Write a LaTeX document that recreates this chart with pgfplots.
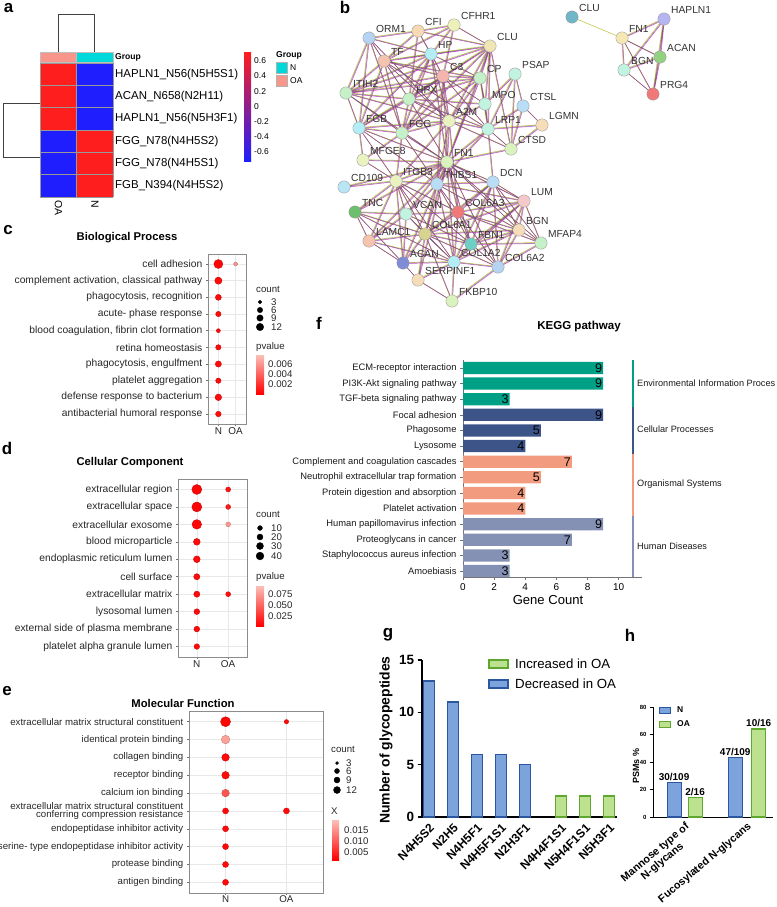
\documentclass[border=0pt]{standalone}
\usepackage{fontspec}
\setmainfont{Liberation Sans}
\usepackage{pgfplots}
\usepackage{pgfplotstable}
\pgfplotsset{compat=1.18}
\newcommand\fs[1]{\fontsize{#1}{#1}\selectfont}
\definecolor{hred}{HTML}{FF1E1E}
\definecolor{hblue}{HTML}{1E1EFF}
\definecolor{gN}{HTML}{00D8DA}
\definecolor{gOA}{HTML}{F8968C}
\definecolor{kT}{HTML}{00A087}
\definecolor{kB}{HTML}{3C5488}
\definecolor{kS}{HTML}{F39B7F}
\definecolor{kG}{HTML}{8491B4}
\definecolor{bF}{HTML}{7CA3DC}
\definecolor{bE}{HTML}{2B56A0}
\definecolor{gF}{HTML}{BDE28F}
\definecolor{gE}{HTML}{5FA830}
\definecolor{pale}{HTML}{FAC0B8}
\definecolor{eO}{HTML}{C2C94A}
\definecolor{eM}{HTML}{CC44CC}
\definecolor{nA}{HTML}{B6D3F2}
\definecolor{nB}{HTML}{F7D9B3}
\definecolor{nC}{HTML}{EEF0B9}
\definecolor{nD}{HTML}{F0E6B5}
\definecolor{nE}{HTML}{B3EDF5}
\definecolor{nF}{HTML}{F5C4AE}
\definecolor{nG}{HTML}{F5B5AE}
\definecolor{nH}{HTML}{C5F0C8}
\definecolor{nI}{HTML}{C2F2E0}
\definecolor{nJ}{HTML}{B9DDF5}
\definecolor{nK}{HTML}{EAF2C2}
\definecolor{nL}{HTML}{F5DDBA}
\definecolor{nM}{HTML}{DAF2BD}
\definecolor{nN}{HTML}{B9E6F5}
\definecolor{nO}{HTML}{F5C9C9}
\definecolor{nP}{HTML}{6CBF6C}
\definecolor{nQ}{HTML}{F07878}
\definecolor{nR}{HTML}{D6D48E}
\definecolor{nS}{HTML}{6ECFC6}
\definecolor{nT}{HTML}{7F8CD6}
\definecolor{nU}{HTML}{6FB6C8}
\definecolor{nV}{HTML}{F5E8B5}
\definecolor{nW}{HTML}{B5B5F2}
\definecolor{nX}{HTML}{92D182}
\pgfplotsset{
  /pgf/number format/assume math mode=true,
  dotax/.style={anchor=north west, scale only axis, xmin=0.4, xmax=2.6, ymin=0.4, ymax=10.6, y dir=reverse,
    xtick={1,2}, xticklabels={N,OA}, ytick={1,...,10}, grid=major,
    major grid style={draw=black!9, line width=0.5bp}, axis line style={draw=black!45, line width=0.6bp},
    tick style={draw=black!55, line width=0.5bp}, tick align=outside, major tick length=2.2bp, tick pos=left,
    ticklabel style={text=black!85}, xticklabel style={font=\fs{10}, inner sep=1bp},
    colormap={dotc}{rgb255=(255,0,0) rgb255=(250,190,180)}, point meta min=0, point meta max=1, clip=false},
  dotpl/.style={scatter, only marks, mark=*, point meta=explicit, visualization depends on={\thisrow{r}\as\rr},
    scatter/@pre marker code/.append style={/tikz/mark size=\rr}},
  kbar/.style={xbar, bar shift=0pt, bar width=12.3bp, draw=none, point meta=x, nodes near coords,
    nodes near coords style={anchor=east, font=\fs{12.6}, inner sep=0.8bp}},
  netnode/.style={only marks, mark=*, mark size=6.2, mark options={draw=black!40, line width=0.35bp, fill=#1},
    nodes near coords, point meta=explicit symbolic,
    nodes near coords style={anchor=west, font=\fs{10.3}, text=black!80, inner sep=0.5bp, xshift=6.5bp, yshift=9bp}},
}
\pgfplotstableread[row sep=\\]{
x y\\
369 38\\384 61\\369 38\\431 54\\369 38\\346 93\\369 38\\359 128\\369 38\\409 99\\369 38\\449 121\\369 38\\402 133\\369 38\\418 31\\nan nan\\
418 31\\443 76\\418 31\\431 54\\418 31\\454 25\\418 31\\490 46\\418 31\\384 61\\418 31\\409 99\\nan nan\\
454 25\\443 76\\454 25\\490 46\\454 25\\431 54\\454 25\\384 61\\nan nan\\
490 46\\443 76\\490 46\\431 54\\490 46\\449 121\\490 46\\480 78\\490 46\\384 61\\490 46\\402 133\\490 46\\409 99\\490 46\\488 129\\490 46\\346 93\\490 46\\485 104\\490 46\\511 149\\490 46\\447 162\\nan nan\\
431 54\\384 61\\431 54\\443 76\\431 54\\409 99\\431 54\\449 121\\431 54\\480 78\\431 54\\359 128\\431 54\\402 133\\431 54\\346 93\\431 54\\447 162\\nan nan\\
384 61\\443 76\\384 61\\409 99\\384 61\\449 121\\384 61\\346 93\\384 61\\359 128\\384 61\\402 133\\384 61\\480 78\\384 61\\488 129\\nan nan\\
443 76\\449 121\\443 76\\480 78\\443 76\\402 133\\443 76\\359 128\\443 76\\409 99\\443 76\\346 93\\443 76\\447 162\\443 76\\485 104\\443 76\\488 129\\443 76\\437 184\\nan nan\\
480 78\\449 121\\480 78\\409 99\\480 78\\485 104\\480 78\\402 133\\480 78\\346 93\\480 78\\488 129\\480 78\\447 162\\nan nan\\
515 74\\511 149\\515 74\\488 129\\515 74\\523 106\\515 74\\485 104\\nan nan\\
346 93\\409 99\\346 93\\359 128\\346 93\\402 133\\346 93\\449 121\\346 93\\447 162\\nan nan\\
409 99\\449 121\\409 99\\402 133\\409 99\\359 128\\409 99\\485 104\\409 99\\447 162\\409 99\\488 129\\nan nan\\
449 121\\402 133\\449 121\\359 128\\449 121\\447 162\\449 121\\488 129\\449 121\\485 104\\449 121\\437 184\\449 121\\511 149\\449 121\\396 181\\449 121\\458 212\\nan nan\\
488 129\\511 149\\488 129\\523 106\\488 129\\542 125\\488 129\\447 162\\488 129\\437 184\\488 129\\493 182\\488 129\\485 104\\nan nan\\
523 106\\511 149\\542 125\\523 106\\nan nan\\
359 128\\402 133\\359 128\\447 162\\359 128\\396 181\\359 128\\363 160\\359 128\\437 184\\nan nan\\
402 133\\447 162\\402 133\\396 181\\402 133\\437 184\\402 133\\363 160\\nan nan\\
447 162\\396 181\\447 162\\437 184\\447 162\\493 182\\447 162\\458 212\\447 162\\425 234\\447 162\\406 214\\447 162\\471 244\\447 162\\454 262\\447 162\\355 212\\447 162\\369 241\\447 162\\519 230\\447 162\\524 201\\447 162\\363 160\\447 162\\344 187\\447 162\\403 263\\447 162\\418 280\\447 162\\511 149\\447 162\\498 267\\447 162\\541 243\\nan nan\\
396 181\\363 160\\396 181\\344 187\\396 181\\437 184\\396 181\\355 212\\396 181\\406 214\\396 181\\425 234\\396 181\\369 241\\396 181\\471 244\\396 181\\454 262\\396 181\\458 212\\396 181\\403 263\\nan nan\\
437 184\\493 182\\437 184\\458 212\\437 184\\454 262\\437 184\\471 244\\437 184\\406 214\\437 184\\425 234\\437 184\\524 201\\437 184\\519 230\\nan nan\\
493 182\\524 201\\493 182\\519 230\\493 182\\458 212\\493 182\\425 234\\493 182\\454 262\\493 182\\498 267\\493 182\\471 244\\493 182\\541 243\\nan nan\\
524 201\\519 230\\524 201\\454 262\\524 201\\425 234\\524 201\\471 244\\524 201\\541 243\\524 201\\458 212\\524 201\\498 267\\nan nan\\
355 212\\406 214\\355 212\\369 241\\355 212\\425 234\\355 212\\403 263\\355 212\\454 262\\nan nan\\
406 214\\425 234\\406 214\\403 263\\406 214\\471 244\\406 214\\454 262\\406 214\\458 212\\406 214\\369 241\\nan nan\\
458 212\\425 234\\458 212\\498 267\\458 212\\471 244\\458 212\\519 230\\458 212\\454 262\\458 212\\541 243\\nan nan\\
425 234\\498 267\\425 234\\471 244\\425 234\\454 262\\425 234\\519 230\\425 234\\369 241\\425 234\\403 263\\425 234\\418 280\\425 234\\452 301\\nan nan\\
519 230\\541 243\\519 230\\498 267\\519 230\\471 244\\519 230\\454 262\\nan nan\\
369 241\\403 263\\454 262\\369 241\\nan nan\\
471 244\\454 262\\471 244\\498 267\\471 244\\541 243\\nan nan\\
541 243\\498 267\\nan nan\\
403 263\\418 280\\nan nan\\
454 262\\498 267\\454 262\\418 280\\454 262\\452 301\\nan nan\\
418 280\\452 301\\498 267\\nan nan\\
622 38\\664 19\\622 38\\660 57\\622 38\\624 70\\622 38\\653 94\\nan nan\\
664 19\\660 57\\664 19\\624 70\\664 19\\653 94\\nan nan\\
660 57\\624 70\\653 94\\660 57\\nan nan\\
}\edgestab
\begin{document}
\begin{tikzpicture}
\useasboundingbox (0,0) rectangle (777bp,-907bp);

% ---------- canvas axis: network + legend dots ----------
\begin{axis}[at={(0bp,0bp)}, anchor=north west, scale only axis, width=777bp, height=907bp,
  xmin=0, xmax=777, ymin=0, ymax=907, y dir=reverse, hide axis, clip=false, unbounded coords=jump]
\addplot[color=eO, line width=0.5bp, xshift=-0.5bp, yshift=0.5bp] table[x=x,y=y] {\edgestab};
\addplot[color=eM, line width=0.5bp, xshift=0.5bp, yshift=-0.5bp] table[x=x,y=y] {\edgestab};
\addplot[color=black!60, line width=0.25bp] table[x=x,y=y] {\edgestab};
\addplot[color=eO, line width=0.6bp] coordinates {(572,17) (622,38)};
\addplot[netnode=nA] table[meta=l, row sep=\\] {x y l\\ 369 38 ORM1\\ 498 267 COL6A2\\};
\addplot[netnode=nB] table[meta=l, row sep=\\] {x y l\\ 418 31 CFI\\};
\addplot[netnode=nC] table[meta=l, row sep=\\] {x y l\\ 454 25 CFHR1\\};
\addplot[netnode=nD] table[meta=l, row sep=\\] {x y l\\ 490 46 CLU\\};
\addplot[netnode=nE] table[meta=l, row sep=\\] {x y l\\ 431 54 HP\\ 359 128 FGB\\ 454 262 COL1A2\\};
\addplot[netnode=nF] table[meta=l, row sep=\\] {x y l\\ 384 61 TF\\ 369 241 LAMC1\\};
\addplot[netnode=nG] table[meta=l, row sep=\\] {x y l\\ 443 76 C3\\};
\addplot[netnode=nH] table[meta=l, row sep=\\] {x y l\\ 480 78 CP\\ 346 93 ITIH2\\ 409 99 HPX\\ 402 133 FGG\\ 541 243 MFAP4\\};
\addplot[netnode=nI] table[meta=l, row sep=\\] {x y l\\ 515 74 PSAP\\ 485 104 MPO\\ 488 129 LRP1\\ 406 214 VCAN\\ 624 70 BGN\\};
\addplot[netnode=nJ] table[meta=l, row sep=\\] {x y l\\ 523 106 CTSL\\ 437 184 THBS1\\ 493 182 DCN\\};
\addplot[netnode=nK] table[meta=l, row sep=\\] {x y l\\ 449 121 A2M\\ 363 160 MFGE8\\ 396 181 ITGB3\\};
\addplot[netnode=nL] table[meta=l, row sep=\\] {x y l\\ 542 125 LGMN\\ 519 230 BGN\\ 418 280 SERPINF1\\};
\addplot[netnode=nM] table[meta=l, row sep=\\] {x y l\\ 511 149 CTSD\\ 447 162 FN1\\ 452 301 FKBP10\\};
\addplot[netnode=nN] table[meta=l, row sep=\\] {x y l\\ 344 187 CD109\\};
\addplot[netnode=nO] table[meta=l, row sep=\\] {x y l\\ 524 201 LUM\\};
\addplot[netnode=nP] table[meta=l, row sep=\\] {x y l\\ 355 212 TNC\\};
\addplot[netnode=nQ] table[meta=l, row sep=\\] {x y l\\ 458 212 COL6A3\\ 653 94 PRG4\\};
\addplot[netnode=nR] table[meta=l, row sep=\\] {x y l\\ 425 234 COL6A1\\};
\addplot[netnode=nS] table[meta=l, row sep=\\] {x y l\\ 471 244 FBN1\\};
\addplot[netnode=nT] table[meta=l, row sep=\\] {x y l\\ 403 263 ACAN\\};
\addplot[netnode=nU] table[meta=l, row sep=\\] {x y l\\ 572 17 CLU\\};
\addplot[netnode=nV] table[meta=l, row sep=\\] {x y l\\ 622 38 FN1\\};
\addplot[netnode=nW] table[meta=l, row sep=\\] {x y l\\ 664 19 HAPLN1\\};
\addplot[netnode=nX] table[meta=l, row sep=\\] {x y l\\ 660 57 ACAN\\};
% count legend dots
\addplot[only marks, mark=*, black, mark size=1.9] coordinates {(260,302)};
\addplot[only marks, mark=*, black, mark size=2.7] coordinates {(260,310)};
\addplot[only marks, mark=*, black, mark size=3.2] coordinates {(260,318)};
\addplot[only marks, mark=*, black, mark size=3.7] coordinates {(260,327)};
\addplot[only marks, mark=*, black, mark size=2.4] coordinates {(260,528)};
\addplot[only marks, mark=*, black, mark size=3.0] coordinates {(260,537)};
\addplot[only marks, mark=*, black, mark size=3.5] coordinates {(260,546)};
\addplot[only marks, mark=*, black, mark size=3.9] coordinates {(260,556)};
\addplot[only marks, mark=*, black, mark size=1.5] coordinates {(337,763)};
\addplot[only marks, mark=*, black, mark size=2.5] coordinates {(337,771)};
\addplot[only marks, mark=*, black, mark size=3.0] coordinates {(337,780)};
\addplot[only marks, mark=*, black, mark size=3.5] coordinates {(337,790)};
\end{axis}

% ---------- a: heatmap ----------
\begin{axis}[at={(40bp,-63bp)}, anchor=north west, scale only axis, width=73bp, height=134bp,
  xmin=0, xmax=2, ymin=0, ymax=6, y dir=reverse, hide axis, clip=false, unbounded coords=jump]
\addplot[fill=hred, draw=none] coordinates {(0,0) (1,0) (1,3) (0,3)};
\addplot[fill=hblue, draw=none] coordinates {(0,3) (1,3) (1,6) (0,6)};
\addplot[fill=hblue, draw=none] coordinates {(1,0) (2,0) (2,3) (1,3)};
\addplot[fill=hred, draw=none] coordinates {(1,3) (2,3) (2,6) (1,6)};
\addplot[draw=black!40, line width=0.6bp] coordinates {(0,0)(2,0)(nan,nan)(0,1)(2,1)(nan,nan)(0,2)(2,2)(nan,nan)(0,3)(2,3)(nan,nan)(0,4)(2,4)(nan,nan)(0,5)(2,5)(nan,nan)(0,6)(2,6)(nan,nan)(0,0)(0,6)(nan,nan)(1,0)(1,6)(nan,nan)(2,0)(2,6)};
\addplot[fill=gOA, draw=black!25, line width=0.4bp] coordinates {(0,-0.49) (1,-0.49) (1,-0.04) (0,-0.04) (0,-0.49)};
\addplot[fill=gN, draw=black!25, line width=0.4bp] coordinates {(1,-0.49) (2,-0.49) (2,-0.04) (1,-0.04) (1,-0.49)};
\addplot[draw=black!75, line width=0.7bp] coordinates {(0.5,-0.49) (0.5,-2.19) (1.5,-2.19) (1.5,-0.49)};
\addplot[draw=black!75, line width=0.7bp] coordinates {(0,1.79) (-1.01,1.79) (-1.01,4.24) (0,4.24)};
\end{axis}

% ---------- c: Biological Process ----------
\begin{axis}[dotax, at={(208bp,-254bp)}, width=38bp, height=170bp,
  yticklabel style={font=\fs{10.3}},
  yticklabels={cell adhesion, {complement activation, classical pathway}, {phagocytosis, recognition}, acute- phase response, {blood coagulation, fibrin clot formation}, retina homeostasis, {phagocytosis, engulfment}, platelet aggregation, defense response to bacterium, antibacterial humoral response}]
\addplot[dotpl] table[x=x, y=y, meta=m, row sep=\\] {
x y r m\\
1 1 4.5 0.02\\ 1 2 3.6 0.05\\ 1 3 3.0 0.05\\ 1 4 2.7 0.05\\ 1 5 2.0 0.05\\
1 6 2.7 0.05\\ 1 7 3.1 0.05\\ 1 8 2.7 0.05\\ 1 9 3.3 0.05\\ 1 10 2.8 0.05\\
2 1 2.0 0.75\\
};
\end{axis}

% ---------- d: Cellular Component ----------
\begin{axis}[dotax, at={(178bp,-479bp)}, width=69bp, height=178bp,
  yticklabel style={font=\fs{10.3}},
  yticklabels={extracellular region, extracellular space, extracellular exosome, blood microparticle, endoplasmic reticulum lumen, cell surface, extracellular matrix, lysosomal lumen, external side of plasma membrane, platelet alpha granule lumen}]
\addplot[dotpl] table[x=x, y=y, meta=m, row sep=\\] {
x y r m\\
1 1 5.0 0.02\\ 1 2 5.0 0.02\\ 1 3 4.8 0.03\\ 1 4 3.4 0.05\\ 1 5 3.4 0.05\\
1 6 3.1 0.05\\ 1 7 3.1 0.05\\ 1 8 2.9 0.05\\ 1 9 2.9 0.05\\ 1 10 2.8 0.05\\
2 1 2.5 0.10\\ 2 2 2.5 0.15\\ 2 3 2.4 0.80\\ 2 7 2.5 0.08\\
};
\end{axis}

% ---------- e: Molecular Function ----------
\begin{axis}[dotax, at={(189bp,-711bp)}, width=134bp, height=182bp,
  yticklabel style={font=\fontsize{9.7}{8.6}\selectfont, align=right},
  xticklabel style={font=\fs{9.8}, inner sep=0.5bp},
  yticklabels={extracellular matrix structural constituent, identical protein binding, collagen binding, receptor binding, calcium ion binding, {extracellular matrix structural constituent\\conferring compression resistance}, endopeptidase inhibitor activity, serine- type endopeptidase inhibitor activity, protease binding, antigen binding}]
\addplot[dotpl] table[x=x, y=y, meta=m, row sep=\\] {
x y r m\\
1 1 5.0 0.02\\ 1 2 4.3 0.85\\ 1 3 3.8 0.05\\ 1 4 3.8 0.05\\ 1 5 3.8 0.45\\
1 6 3.0 0.05\\ 1 7 3.0 0.05\\ 1 8 3.0 0.05\\ 1 9 3.0 0.05\\ 1 10 3.0 0.05\\
2 1 2.2 0.05\\ 2 6 3.0 0.05\\
};
\end{axis}

% ---------- f: KEGG ----------
\begin{axis}[at={(463bp,-577bp)}, anchor=south west, scale only axis, width=179bp, height=217bp,
  xmin=0, xmax=11.5, ymin=0.62, ymax=14.51, axis x line*=bottom, axis y line*=left,
  axis line style={-, draw=black!55, line width=0.7bp}, tick style={draw=black!55, line width=0.6bp},
  tick align=outside, major tick length=3bp, xtick={0,2,4,6,8,10}, ytick={1,...,14},
  yticklabels={Amoebiasis, Staphylococcus aureus infection, Proteoglycans in cancer, Human papillomavirus infection, Platelet activation, Protein digestion and absorption, Neutrophil extracellular trap formation, Complement and coagulation cascades, Lysosome, Phagosome, Focal adhesion, TGF-beta signaling pathway, PI3K-Akt signaling pathway, ECM-receptor interaction},
  yticklabel style={font=\fs{9.4}, text=black!90}, xticklabel style={font=\fs{10}}, clip=false]
\addplot[kbar, fill=kT] coordinates {(9,14) (9,13) (3,12)};
\addplot[kbar, fill=kB] coordinates {(9,11) (5,10) (4,9)};
\addplot[kbar, fill=kS] coordinates {(7,8) (5,7) (4,6) (4,5)};
\addplot[kbar, fill=kG] coordinates {(9,4) (7,3) (3,2) (3,1)};
\addplot[kT, line width=2.6bp] coordinates {(10.92,14.51) (10.92,11.5)};
\addplot[kB, line width=2.6bp] coordinates {(10.92,11.5) (10.92,8.5)};
\addplot[kS, line width=2.6bp] coordinates {(10.92,8.5) (10.92,4.5)};
\addplot[kG, line width=2.6bp] coordinates {(10.92,4.5) (10.92,0.62)};
\end{axis}

% ---------- g ----------
\begin{axis}[at={(422bp,-817bp)}, anchor=south west, scale only axis, width=195bp, height=157bp,
  xmin=-0.29, xmax=7.83, ymin=0, ymax=15, axis x line*=bottom, axis y line*=left,
  axis line style={-, black, line width=1.3bp}, ytick={0,5,10,15}, ytick style={black, line width=1.3bp},
  major tick length=4.5bp, tick align=outside,
  xtick={0,1,2,3,4,5.5,6.5,7.5}, xtick style={draw=none},
  xticklabels={N4H5S2,N2H5,N4H5F1,N4H5F1S1,N2H3F1,N4H4F1S1,N5H4F1S1,N5H3F1},
  xticklabel style={rotate=45, anchor=north east, font=\bfseries\fs{12}, inner sep=1bp},
  yticklabel style={font=\bfseries\fs{13.5}}, clip=false]
\addplot[ybar, bar shift=0pt, bar width=11bp, fill=bF, draw=bE, line width=1.3bp] coordinates {(0,13) (1,11) (2,6) (3,6) (4,5)};
\addplot[ybar, bar shift=0pt, bar width=11bp, fill=gF, draw=gE, line width=1.3bp] coordinates {(5.5,2) (6.5,2) (7.5,2)};
\end{axis}

% ---------- h ----------
\begin{axis}[at={(653bp,-817bp)}, anchor=south west, scale only axis, width=120bp, height=110bp,
  xmin=0.49, xmax=2.42, ymin=0, ymax=80, axis x line*=bottom, axis y line*=left,
  axis line style={-, black, line width=1bp}, ytick={0,20,40,60,80}, ytick style={black, line width=1bp},
  major tick length=3bp, tick align=outside, xtick={1,2}, xtick style={draw=none},
  xticklabels={{Mannose type of\\N-glycans}, Fucosylated N-glycans},
  xticklabel style={rotate=40, anchor=north east, align=center, font=\bfseries\fontsize{10.8}{11.5}\selectfont, inner sep=1bp},
  yticklabel style={font=\bfseries\fs{6}}, clip=false]
\addplot[ybar, bar shift=0pt, bar width=14bp, fill=bF, draw=bE, line width=1.1bp, nodes near coords, point meta=explicit symbolic,
  nodes near coords style={font=\bfseries\fs{10}, inner sep=1.5bp}] table[x=x, y=y, meta=l, row sep=\\] {x y l\\ 0.829 25 30/109\\ 1.812 43 47/109\\};
\addplot[ybar, bar shift=0pt, bar width=14bp, fill=gF, draw=gE, line width=1.1bp, nodes near coords, point meta=explicit symbolic,
  nodes near coords style={font=\bfseries\fs{10}, inner sep=1.5bp}] table[x=x, y=y, meta=l, row sep=\\] {x y l\\ 1.167 14 2/16\\ 2.19 64 10/16\\};
\end{axis}

% ---------- texts ----------
\begin{scope}[x=1bp, y=-1bp, every node/.style={inner sep=0pt}]
\node[font=\bfseries\fs{17}] at (8.5,8.5) {a};
\node[font=\bfseries\fs{17}] at (345,7.5) {b};
\node[font=\bfseries\fs{17}] at (8,230) {c};
\node[font=\bfseries\fs{17}] at (7,448) {d};
\node[font=\bfseries\fs{17}] at (7,691) {e};
\node[font=\bfseries\fs{17}] at (319,323) {f};
\node[font=\bfseries\fs{17}] at (388,635) {g};
\node[font=\bfseries\fs{17}] at (630,635) {h};
% heatmap labels
\node[anchor=west, font=\bfseries\fs{8.6}] at (115,57) {Group};
\node[anchor=west, font=\fs{11.5}] at (115,74.2) {HAPLN1\_N56(N5H5S1)};
\node[anchor=west, font=\fs{11.5}] at (115,96.5) {ACAN\_N658(N2H11)};
\node[anchor=west, font=\fs{11.5}] at (115,118.8) {HAPLN1\_N56(N5H3F1)};
\node[anchor=west, font=\fs{11.5}] at (115,141.2) {FGG\_N78(N4H5S2)};
\node[anchor=west, font=\fs{11.5}] at (115,163.5) {FGG\_N78(N4H5S1)};
\node[anchor=west, font=\fs{11.5}] at (115,185.8) {FGB\_N394(N4H5S2)};
\node[rotate=-90, anchor=west, font=\fs{10.5}] at (58.5,200) {OA};
\node[rotate=-90, anchor=west, font=\fs{10.5}] at (95,200) {N};
\shade[top color=hred, middle color=white, bottom color=hblue] (244,52) rectangle (251,161);
\node[anchor=west, font=\fs{8.5}] at (254,61) {0.6};
\node[anchor=west, font=\fs{8.5}] at (254,76) {0.4};
\node[anchor=west, font=\fs{8.5}] at (254,92) {0.2};
\node[anchor=west, font=\fs{8.5}] at (254,107) {0};
\node[anchor=west, font=\fs{8.5}] at (254,122) {-0.2};
\node[anchor=west, font=\fs{8.5}] at (254,137) {-0.4};
\node[anchor=west, font=\fs{8.5}] at (254,152) {-0.6};
\node[anchor=west, font=\bfseries\fs{8.6}] at (276,55) {Group};
\filldraw[fill=gN, draw=black!30, line width=0.4bp] (276,62) rectangle (287,73);
\filldraw[fill=gOA, draw=black!30, line width=0.4bp] (276,75) rectangle (287,86);
\node[anchor=west, font=\fs{8.5}] at (290,67.5) {N};
\node[anchor=west, font=\fs{8.5}] at (290,80.5) {OA};
% dot plot titles and legends
\node[font=\bfseries\fs{11.3}] at (127,238) {Biological Process};
\node[font=\bfseries\fs{11.3}] at (130,463) {Cellular Component};
\node[font=\bfseries\fs{11.3}] at (183,703) {Molecular Function};
\begin{scope}[every node/.append style={anchor=west, font=\fs{9.7}, text=black!85}]
\node at (256,289) {count};
\node at (271,302) {3}; \node at (271,310) {6}; \node at (271,318) {9}; \node at (271,327) {12};
\node at (256,347) {pvalue};
\node at (268,364) {0.006}; \node at (268,374) {0.004}; \node at (268,384) {0.002};
\node at (256,514) {count};
\node at (271,528) {10}; \node at (271,537) {20}; \node at (271,546) {30}; \node at (271,556) {40};
\node at (256,577) {pvalue};
\node at (268,594) {0.075}; \node at (268,605) {0.050}; \node at (268,616) {0.025};
\node at (331,749) {count};
\node at (346,763) {3}; \node at (346,771) {6}; \node at (346,780) {9}; \node at (346,790) {12};
\node at (331,811) {X};
\node at (344,830) {0.015}; \node at (344,841) {0.010}; \node at (344,852) {0.005};
\end{scope}
\shade[top color=pale, bottom color=red] (256,355) rectangle (264,394);
\shade[top color=pale, bottom color=red] (256,586) rectangle (264,626);
\shade[top color=pale, bottom color=red] (332,820) rectangle (339,860);
% f texts
\node[font=\bfseries\fs{11.6}] at (579,327) {KEGG pathway};
\node[font=\fs{13.1}] at (548,600) {Gene Count};
\begin{scope}[every node/.append style={anchor=west, font=\fs{9.2}, text=black!90}]
\node at (637,383) {Environmental Information Proces};
\node at (637,429) {Cellular Processes};
\node at (637,484) {Organismal Systems};
\node at (637,546) {Human Diseases};
\end{scope}
% g texts
\node[rotate=90, font=\bfseries\fs{14}] at (386,740) {Number of glycopeptides};
\filldraw[fill=gF, draw=gE, line width=1.3bp] (489,660) rectangle (508,668);
\filldraw[fill=bF, draw=bE, line width=1.3bp] (489,680) rectangle (508,688);
\node[anchor=west, font=\fs{13.3}] at (515,664) {Increased in OA};
\node[anchor=west, font=\fs{13.3}] at (515,684) {Decreased in OA};
% h texts
\node[rotate=90, font=\bfseries\fs{9}] at (636,766) {PSMs \%};
\filldraw[fill=bF, draw=bE, line width=0.9bp] (659,707) rectangle (670,713);
\filldraw[fill=gF, draw=gE, line width=0.9bp] (659,721) rectangle (670,727);
\node[anchor=west, font=\bfseries\fs{8.5}] at (677,710) {N};
\node[anchor=west, font=\bfseries\fs{8.5}] at (677,724) {OA};
\end{scope}
\end{tikzpicture}
\end{document}
